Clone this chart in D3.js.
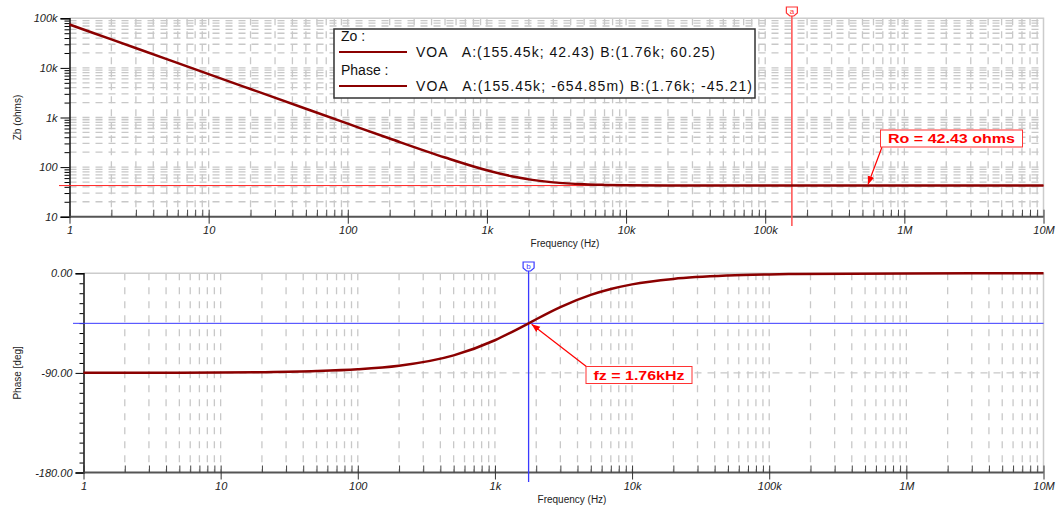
<!DOCTYPE html>
<html>
<head>
<meta charset="utf-8">
<script src="https://cdn.jsdelivr.net/npm/d3@7"></script>
<style>
  body { margin: 0; background: #fff; }
  svg { display: block; font-family: "Liberation Sans", Arial, sans-serif; }
</style>
</head>
<body>
<svg></svg>
<script>
const width = 1062;
const height = 506;

// frequency points (Hz)
const freqs = [1, 2, 5, 10, 20, 50, 100, 200, 500, 1000, 1500, 1760, 2000, 3000, 5000, 7000, 10000, 20000, 50000, 100000, 155450, 1e6, 1e7];
// output impedance Zo (ohms)
const zoValues = [75000, 37500, 15000, 7500, 3750, 1500, 751, 377, 156, 86.2, 65.6, 60.25, 56.6, 49.2, 45.0, 43.8, 43.1, 42.6, 42.5, 42.45, 42.43, 42.43, 42.43];
// phase (deg)
const phaseValues = [-89.97, -89.94, -89.84, -89.68, -89.35, -88.38, -86.76, -83.55, -74.2, -60.5, -49.7, -45.21, -41.5, -30.5, -19.5, -14.2, -10.0, -5.05, -2.02, -1.01, -0.65, -0.1, -0.01];

const freqTicks = [1, 10, 100, 1e3, 1e4, 1e5, 1e6, 1e7];
const freqLabels = ["1", "10", "100", "1k", "10k", "100k", "1M", "10M"];
const zTicks = [10, 100, 1e3, 1e4, 1e5];
const zLabels = ["10", "100", "1k", "10k", "100k"];
const phaseTicks = [-180, -90, 0];
const phaseLabels = ["-180.00", "-90.00", "0.00"];

// cursors
const cursorA = 155.45e3;
const cursorB = 1760;
const roValue = 42.43;
const phaseB = -45.21;

const legendRows = [
  {title: "Zo :", text: "VOA   A:(155.45k; 42.43) B:(1.76k; 60.25)", len: 299},
  {title: "Phase :", text: "VOA   A:(155.45k; -654.85m) B:(1.76k; -45.21)", len: 336}
];

const curveColor = "#8b0000";
const gridColor = "#c8c8c8";

let svg = d3.select("svg").attr("width", width).attr("height", height);

// minor log values 2..9 in each decade
function minorVals(lo, hi, withDecades) {
  let arr = [];
  for (let d = lo; d < hi; d *= 10) {
    for (let m = 1; m <= 9; m++) {
      if (m == 1 && (!withDecades || d == lo)) continue;
      arr.push(m * d);
    }
  }
  return arr;
}

function freqAxis(scX, yPos, labelY) {
  // axis line
  svg.append("line")
    .attr("x1", scX.range()[0]).attr("x2", scX.range()[1])
    .attr("y1", yPos).attr("y2", yPos)
    .attr("stroke", "#555").attr("stroke-width", 2);
  // minor ticks (up)
  svg.append("g")
    .attr("transform", `translate(0, ${yPos})`)
    .call(d3.axisTop(scX).tickValues(minorVals(1, 1e7, false)).tickSize(7).tickFormat(""))
    .call(g => g.select(".domain").remove())
    .selectAll("line").attr("stroke", "#444");
  // major ticks + labels
  let g = svg.append("g")
    .attr("transform", `translate(0, ${yPos})`)
    .call(d3.axisBottom(scX).tickValues(freqTicks).tickSize(7).tickPadding(3)
      .tickFormat((d, i) => freqLabels[i]));
  g.select(".domain").remove();
  g.selectAll("line").attr("stroke", "#333").attr("y1", -7);
  g.selectAll("text").attr("font-size", 11).attr("font-style", "italic")
    .attr("fill", "#222").attr("font-family", "Liberation Sans, Arial");
  svg.append("text")
    .attr("x", labelY[0]).attr("y", labelY[1])
    .attr("text-anchor", "middle").attr("font-size", 10).attr("fill", "#222")
    .text("Frequency (Hz)");
}

function cursorMarker(x, yTop, color, label) {
  svg.append("path")
    .attr("d", `M${x - 5.5},${yTop} H${x + 5.5} V${yTop + 6} L${x + 2},${yTop + 9} H${x - 2} L${x - 5.5},${yTop + 6} Z`)
    .attr("fill", "#fff").attr("stroke", color).attr("stroke-width", 1.2);
  svg.append("text")
    .attr("x", x).attr("y", yTop + 7)
    .attr("text-anchor", "middle").attr("font-size", 8).attr("fill", color)
    .text(label);
}

svg.append("defs").selectAll("marker")
  .data(["red"])
  .join("marker")
  .attr("id", d => "arr-" + d)
  .attr("viewBox", "0 0 10 10").attr("refX", 10).attr("refY", 5)
  .attr("markerWidth", 7).attr("markerHeight", 7).attr("orient", "auto")
  .append("path").attr("d", "M0,1 L10,5 L0,9 Z").attr("fill", "#f00");

function note(x, y, w, h, label, len, from, to) {
  svg.append("line")
    .attr("x1", from[0]).attr("y1", from[1]).attr("x2", to[0]).attr("y2", to[1])
    .attr("stroke", "#f00").attr("stroke-width", 1.2)
    .attr("marker-end", "url(#arr-red)");
  svg.append("rect")
    .attr("x", x).attr("y", y).attr("width", w).attr("height", h)
    .attr("fill", "#fff").attr("stroke", "#f33").attr("stroke-width", 1);
  svg.append("text")
    .attr("x", x + (w - len) / 2).attr("y", y + h / 2 + 4.5)
    .attr("font-size", 13).attr("font-weight", "bold")
    .attr("textLength", len).attr("lengthAdjust", "spacingAndGlyphs")
    .attr("fill", "#f00").text(label);
}

// ---------------- top plot: Zo ----------------
const scX1 = d3.scaleLog().domain([1, 1e7]).range([69.5, 1043.5]);
const scY1 = d3.scaleLog().domain([10, 1e5]).range([216.7, 18.3]);

// grid
svg.append("g").selectAll("line")
  .data(minorVals(1, 1e7, true))
  .join("line")
  .attr("x1", d => scX1(d)).attr("x2", d => scX1(d))
  .attr("y1", scY1(1e5)).attr("y2", scY1(10))
  .attr("stroke", gridColor).attr("stroke-width", 1.3).attr("stroke-dasharray", "7,6");
svg.append("g").selectAll("line")
  .data(minorVals(10, 1e5, true).filter(d => d > 10))
  .join("line")
  .attr("x1", scX1.range()[0]).attr("x2", scX1.range()[1])
  .attr("y1", d => scY1(d)).attr("y2", d => scY1(d))
  .attr("stroke", gridColor).attr("stroke-width", 1.3).attr("stroke-dasharray", "7,6");
// frame
svg.append("path")
  .attr("d", `M${scX1(1)},${scY1(1e5)} H${scX1(1e7)} V${scY1(10)}`)
  .attr("fill", "none").attr("stroke", "#ccc").attr("stroke-width", 1.5);

// y axis
let gy1 = svg.append("g")
  .attr("transform", `translate(${scX1(1)}, 0)`)
  .call(d3.axisLeft(scY1).tickValues(zTicks).tickSize(9).tickPadding(3)
    .tickFormat((d, i) => zLabels[i]));
gy1.select(".domain").attr("stroke", "#111").attr("stroke-width", 1.5);
gy1.selectAll("text").attr("font-size", 11).attr("font-style", "italic").attr("fill", "#222");
svg.append("g")
  .attr("transform", `translate(${scX1(1)}, 0)`)
  .call(d3.axisLeft(scY1).tickValues(minorVals(10, 1e5, false)).tickSize(5).tickFormat(""))
  .call(g => g.select(".domain").remove());

svg.append("text")
  .attr("transform", `translate(21, ${scY1(1000)}) rotate(-90)`)
  .attr("text-anchor", "middle").attr("font-size", 10).attr("fill", "#222")
  .text("Zb (ohms)");

// cursor A lines
svg.append("line")
  .attr("x1", 59).attr("x2", scX1(1e7))
  .attr("y1", scY1(roValue)).attr("y2", scY1(roValue))
  .attr("stroke", "#f22").attr("stroke-width", 1);

freqAxis(scX1, scY1(10), [565, 247]);

svg.append("line")
  .attr("x1", scX1(cursorA)).attr("x2", scX1(cursorA))
  .attr("y1", 16).attr("y2", 226)
  .attr("stroke", "#ff5a5a").attr("stroke-width", 1.6);
cursorMarker(scX1(cursorA), 7, "#f33", "a");

// curve
const line1 = d3.line()
  .x((d, i) => scX1(freqs[i]))
  .y(d => scY1(d))
  .curve(d3.curveMonotoneX);
svg.append("path")
  .datum(zoValues)
  .attr("fill", "none").attr("stroke", curveColor).attr("stroke-width", 2.5)
  .attr("d", line1);

// legend
let lg = svg.append("g").attr("transform", "translate(334, 29)");
lg.append("rect").attr("width", 421).attr("height", 69)
  .attr("fill", "#fff").attr("stroke", "#333").attr("stroke-width", 1.5);
legendRows.forEach((r, i) => {
  let y0 = i * 34;
  lg.append("text").attr("x", 7).attr("y", y0 + 12).attr("font-size", 14).attr("fill", "#111")
    .text(r.title);
  lg.append("line").attr("x1", 5).attr("x2", 73).attr("y1", y0 + 23).attr("y2", y0 + 23)
    .attr("stroke", curveColor).attr("stroke-width", 2.2);
  lg.append("text").attr("x", 82).attr("y", y0 + 28).attr("font-size", 14).attr("fill", "#111")
    .attr("xml:space", "preserve").style("white-space", "pre")
    .attr("textLength", r.len).attr("lengthAdjust", "spacing").text(r.text);
});

note(880.5, 130, 142, 17, "Ro = 42.43 ohms", 127, [882, 147], [868, scY1(roValue) - 1]);

// ---------------- bottom plot: phase ----------------
const scX2 = d3.scaleLog().domain([1, 1e7]).range([83.5, 1043.5]);
const scY2 = d3.scaleLinear().domain([-180, 0]).range([472.5, 273.3]);

svg.append("g").selectAll("line")
  .data(minorVals(1, 1e7, true))
  .join("line")
  .attr("x1", d => scX2(d)).attr("x2", d => scX2(d))
  .attr("y1", scY2(0)).attr("y2", scY2(-180))
  .attr("stroke", gridColor).attr("stroke-width", 1.3).attr("stroke-dasharray", "7,7");
svg.append("line")
  .attr("x1", scX2.range()[0]).attr("x2", scX2.range()[1])
  .attr("y1", scY2(-90)).attr("y2", scY2(-90))
  .attr("stroke", gridColor).attr("stroke-width", 1.3).attr("stroke-dasharray", "7,6");
svg.append("path")
  .attr("d", `M${scX2(1)},${scY2(0)} H${scX2(1e7)} V${scY2(-180)}`)
  .attr("fill", "none").attr("stroke", "#ccc").attr("stroke-width", 1.5);

let gy2 = svg.append("g")
  .attr("transform", `translate(${scX2(1)}, 0)`)
  .call(d3.axisLeft(scY2).tickValues(phaseTicks).tickSize(8).tickPadding(3)
    .tickFormat((d, i) => phaseLabels[i]));
gy2.select(".domain").attr("stroke", "#111").attr("stroke-width", 1.5);
gy2.selectAll("text").attr("font-size", 11).attr("font-style", "italic").attr("fill", "#222");
svg.append("g")
  .attr("transform", `translate(${scX2(1)}, 0)`)
  .call(d3.axisLeft(scY2).tickValues(d3.range(-171, 0, 9).filter(d => d != -90)).tickSize(4).tickFormat(""))
  .call(g => g.select(".domain").remove());

svg.append("text")
  .attr("transform", `translate(21, ${scY2(-90)}) rotate(-90)`)
  .attr("text-anchor", "middle").attr("font-size", 10).attr("fill", "#222")
  .text("Phase [deg]");

svg.append("line")
  .attr("x1", 73).attr("x2", scX2(1e7))
  .attr("y1", scY2(phaseB)).attr("y2", scY2(phaseB))
  .attr("stroke", "#3a3aff").attr("stroke-width", 1);

freqAxis(scX2, scY2(-180), [572, 503]);

svg.append("line")
  .attr("x1", scX2(cursorB)).attr("x2", scX2(cursorB))
  .attr("y1", 271).attr("y2", 482)
  .attr("stroke", "#3a3aff").attr("stroke-width", 1.3);
cursorMarker(scX2(cursorB), 262, "#3a3aff", "b");

const line2 = d3.line()
  .x((d, i) => scX2(freqs[i]))
  .y(d => scY2(d))
  .curve(d3.curveMonotoneX);
svg.append("path")
  .datum(phaseValues)
  .attr("fill", "none").attr("stroke", curveColor).attr("stroke-width", 2.5)
  .attr("d", line2);

note(586, 366.5, 106, 17, "fz = 1.76kHz", 91, [587, 367], [scX2(cursorB) + 3, scY2(phaseB) + 1]);
</script>
</body>
</html>
